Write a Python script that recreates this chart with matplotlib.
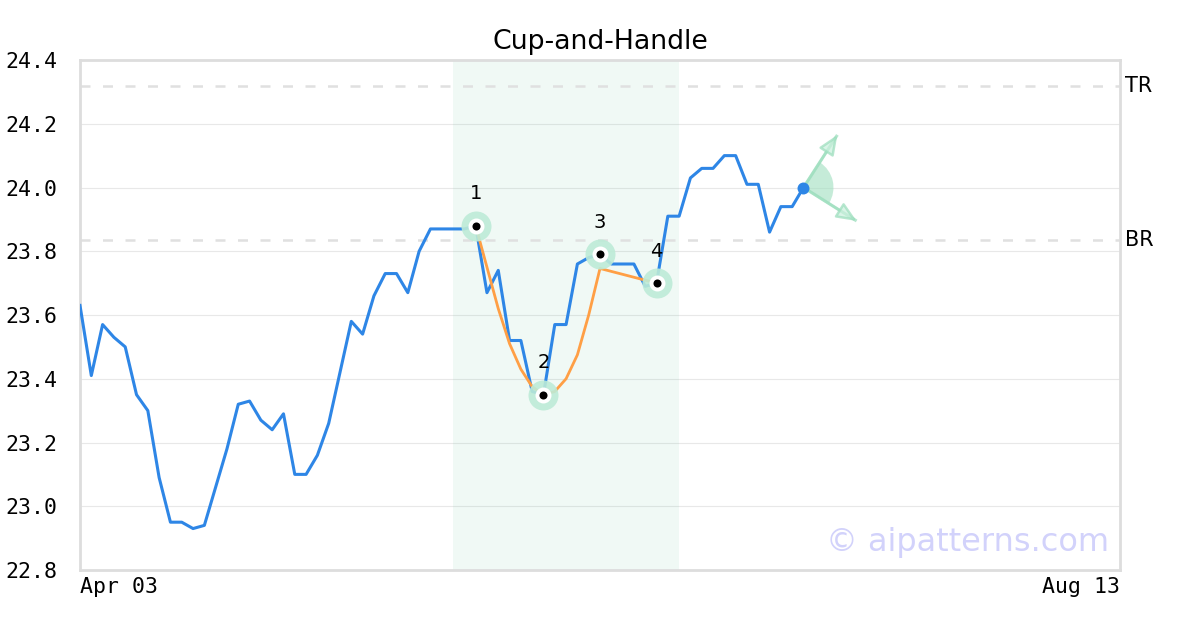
import numpy as np
import matplotlib
matplotlib.use("Agg")
import matplotlib.pyplot as plt
from matplotlib.patches import Wedge, FancyArrowPatch
from matplotlib.transforms import ScaledTranslation

# price series, one value per trading day starting Apr 03
prices = [23.63, 23.41, 23.57, 23.53, 23.50, 23.35, 23.30, 23.09, 22.95, 22.95,
          22.93, 22.94, 23.06, 23.18, 23.32, 23.33, 23.27, 23.24, 23.29, 23.10,
          23.10, 23.16, 23.26, 23.42, 23.58, 23.54, 23.66, 23.73, 23.73, 23.67,
          23.80, 23.87, 23.87, 23.87, 23.87, 23.88, 23.67, 23.74, 23.52, 23.52,
          23.36, 23.35, 23.57, 23.57, 23.76, 23.78, 23.79, 23.76, 23.76, 23.76,
          23.69, 23.70, 23.91, 23.91, 24.03, 24.06, 24.06, 24.10, 24.10, 24.01,
          24.01, 23.86, 23.94, 23.94, 24.00]

# cup fit (orange)
cup_x = [35, 36, 37, 38, 39, 40, 41, 42, 43, 44, 45, 46, 51]
cup_y = [23.88, 23.75, 23.62, 23.51, 23.43, 23.375, 23.35, 23.36, 23.40, 23.475, 23.60, 23.746, 23.70]

# pattern key points
key_x = [35, 41, 46, 51]
key_y = [23.88, 23.35, 23.79, 23.70]
key_labels = ["1", "2", "3", "4"]

# support / resistance
tr_level = 24.318
br_level = 23.835

# pattern window
span_start, span_end = 33, 53

# projected move arrows
arrow_x = [67.0, 68.7]
arrow_y = [24.165, 23.895]

n_days = 92
x_labels = ["Apr 03", "Aug 13"]
y_ticks = [22.8, 23.0, 23.2, 23.4, 23.6, 23.8, 24.0, 24.2, 24.4]

blue = "#2e86e6"
orange = "#ff9f45"
green = "#9fdfbf"

fig = plt.figure(figsize=(12, 6.3), dpi=100)
ax = fig.add_axes([80 / 1200, 60 / 630, 1040 / 1200, 510 / 630])

ax.set_xlim(0, n_days)
ax.set_ylim(y_ticks[0], y_ticks[-1])

for yv in y_ticks:
    ax.axhline(yv, color="#e8e8e8", lw=0.8, zorder=0.5)

ax.axvspan(span_start, span_end, color="#5cc49a", alpha=0.09, lw=0, zorder=0.6)

for lvl in (tr_level, br_level):
    ax.axhline(lvl, color="#e0e0e0", lw=1.8, ls=(0, (4, 5)), zorder=1)

xs = np.arange(len(prices))
ax.plot(xs, prices, color=blue, lw=2.2, zorder=3)
ax.plot(cup_x, cup_y, color=orange, lw=2.0, zorder=3.5)

ax.plot(key_x, key_y, "o", ms=21.6, color="#bdebd7", alpha=0.9, mec="none", zorder=4)
ax.plot(key_x, key_y, "o", ms=11.5, color="white", mec="none", zorder=4.1)
ax.plot(key_x, key_y, "o", ms=5.8, color="black", mec="none", zorder=4.2)
for kx, ky, lab in zip(key_x, key_y, key_labels):
    ax.annotate(lab, (kx, ky), xytext=(0, 23), textcoords="offset points",
                ha="center", va="center", fontsize=14, zorder=5)

# last point and projection
lx, ly = xs[-1], prices[-1]
ax.plot([lx], [ly], "o", ms=8.6, color=blue, mec="none", zorder=6)

fig.canvas.draw()
p0 = ax.transData.transform((lx, ly))
angles = []
for tx, ty in zip(arrow_x, arrow_y):
    p1 = ax.transData.transform((tx, ty))
    angles.append(np.degrees(np.arctan2(p1[1] - p0[1], p1[0] - p0[0])))
    ax.plot([lx, tx], [ly, ty], color=green, lw=2.2, alpha=0.75, zorder=5, solid_capstyle="butt")
    arr = FancyArrowPatch((lx, ly), (tx, ty), arrowstyle="-|>,head_length=0.75,head_width=0.32",
                          mutation_scale=16, lw=1.8, color=green, alpha=0.75,
                          shrinkA=0, shrinkB=0, zorder=5)
    arr.set_facecolor("#cdf1df")
    ax.add_patch(arr)
tr = fig.dpi_scale_trans + ScaledTranslation(lx, ly, ax.transData)
wedge = Wedge((0, 0), 0.30, min(angles), max(angles), transform=tr,
              facecolor=green, alpha=0.6, lw=0, zorder=4.5)
ax.add_patch(wedge)

ytr = ax.get_yaxis_transform()
ax.text(1.005, tr_level, "TR", transform=ytr, va="center", ha="left", fontsize=15)
ax.text(1.005, br_level, "BR", transform=ytr, va="center", ha="left", fontsize=15)

ax.text(0.99, 0.053, "\u00a9 aipatterns.com", transform=ax.transAxes, ha="right", va="center",
        fontsize=23, color="#d2d2fb", zorder=2)

ax.set_yticks(y_ticks)
ax.set_yticklabels([f"{v:.1f}" for v in y_ticks], fontfamily="DejaVu Sans Mono", fontsize=15.5)
ax.set_xticks([0, n_days])
ax.set_xticklabels(x_labels, fontfamily="DejaVu Sans Mono", fontsize=15.5)
xl = ax.get_xticklabels()
xl[0].set_ha("left")
xl[1].set_ha("right")
ax.tick_params(axis="y", length=0, pad=16)
ax.tick_params(axis="x", length=0, pad=5)

for s in ax.spines.values():
    s.set_color("#dddddd")
    s.set_linewidth(2)

ax.set_title("Cup-and-Handle", fontsize=19.3, pad=8)

fig.savefig("out.png", dpi=100)
